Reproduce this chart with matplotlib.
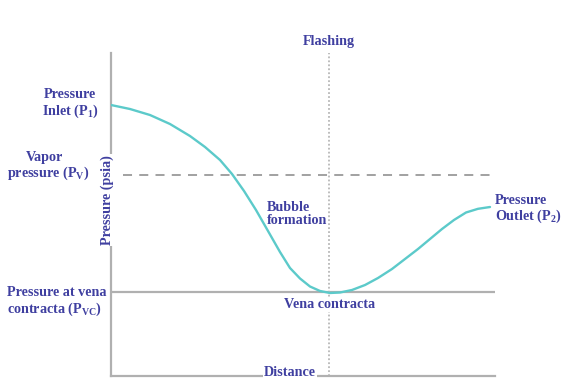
import matplotlib
matplotlib.use("Agg")
import matplotlib.pyplot as plt

# distance (% of run) and pressure (arbitrary psia scale)
distance = [0, 4.95, 10.16, 15.36, 20.57, 24.48, 28.39, 31.51, 34.64, 37.76, 40.89,
            44.01, 46.61, 49.22, 51.82, 54.43, 57.03, 59.64, 62.76, 66.15, 69.53,
            73.18, 76.56, 79.95, 83.07, 86.20, 89.32, 92.45, 95.57, 98.70]
pressure = [83.90, 82.66, 80.80, 78.02, 74.30, 70.90, 66.87, 62.54, 57.28, 51.39, 44.89,
            38.39, 33.44, 30.19, 27.71, 26.32, 25.70, 25.85, 26.63, 28.17, 30.34,
            33.13, 36.22, 39.32, 42.41, 45.51, 48.30, 50.62, 51.76, 52.32]

p_vapor = 62.2
p_vc = 26.0
x_vc = 56.8

txt = "#3f3fa0"
grey = "#b0b0b0"

plt.rcParams["font.family"] = "Liberation Serif"
plt.rcParams["font.weight"] = "bold"
plt.rcParams["mathtext.fontset"] = "custom"
plt.rcParams["mathtext.rm"] = "Liberation Serif:bold"
plt.rcParams["mathtext.it"] = "Liberation Serif:bold"
plt.rcParams["mathtext.bf"] = "Liberation Serif:bold"

fig = plt.figure(figsize=(5.63, 3.83), dpi=100)
ax = fig.add_axes([111 / 563, 7 / 383, 384 / 563, 323 / 383])
ax.set_xlim(0, 100)
ax.set_ylim(0, 100)
ax.set_xticks([])
ax.set_yticks([])
for s in ["top", "right"]:
    ax.spines[s].set_visible(False)
for s in ["left", "bottom"]:
    ax.spines[s].set_color(grey)
    ax.spines[s].set_linewidth(1.6)

ax.axhline(p_vc, color=grey, lw=1.6, zorder=1)
ax.plot([3, 100], [p_vapor, p_vapor], color="#9a9a9a", lw=1.3, ls=(0, (5, 4)), zorder=1)
ax.axvline(x_vc, color="#b8b8b8", lw=1.3, ls=(0, (1, 1.2)), zorder=1)

ax.plot(distance, pressure, color="#5ccaca", lw=1.7, zorder=3,
        solid_joinstyle="round", solid_capstyle="round")

fs = 10.2
kw = dict(color=txt, fontsize=fs, fontweight="bold", clip_on=False, va="center")
white = dict(facecolor="white", edgecolor="none", pad=0.5)

ax.text(x_vc, 103.7, "Flashing", ha="center", **kw)

ax.text(-10.7, 87.0, "Pressure", ha="center", **kw)
ax.text(-10.7, 82.0, "Inlet ($\\mathrm{P_1}$)", ha="center", **kw)

ax.text(-17.4, 67.5, "Vapor", ha="center", **kw)
ax.text(-16.4, 62.9, "pressure ($\\mathrm{P_V}$)", ha="center", **kw)

ax.text(-27.1, 26.0, "Pressure at vena", ha="left", **kw)
ax.text(-27.1, 20.7, "contracta ($\\mathrm{P_{VC}}$)", ha="left", **kw)

ax.text(40.6, 52.3, "Bubble", ha="left", **kw)
ax.text(40.6, 48.0, "formation", ha="left", **kw)

ax.text(x_vc, 22.0, "Vena contracta", ha="center", bbox=white, **kw)

ax.text(100.0, 54.2, "Pressure", ha="left", **kw)
ax.text(100.0, 49.3, "Outlet ($\\mathrm{P_2}$)", ha="left", **kw)

ax.text(46.6, 1.2, "Distance", ha="center",
        bbox=dict(facecolor="white", edgecolor="none", pad=1), **kw)
ax.text(-1.0, 54.5, "Pressure (psia)", ha="center", rotation=90, bbox=white, **kw)

fig.savefig("out.png", dpi=100)
